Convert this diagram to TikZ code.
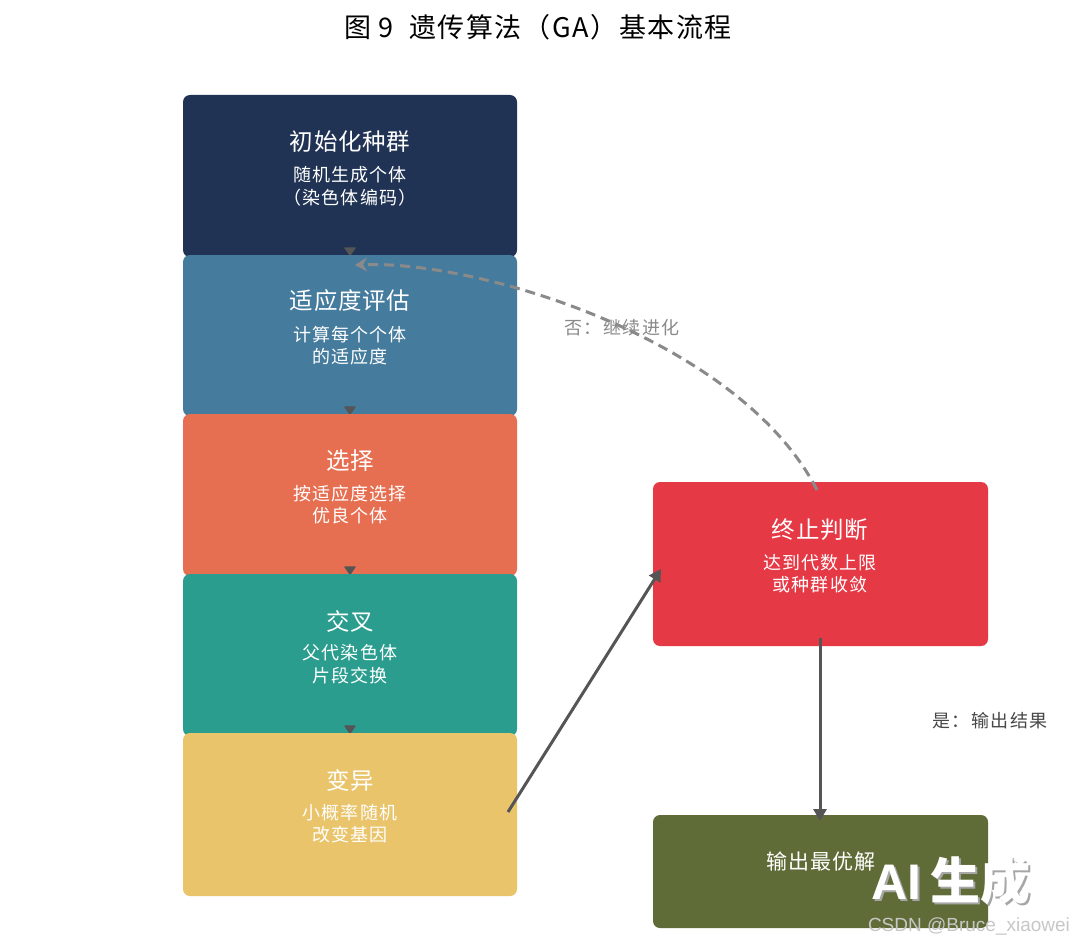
\documentclass[tikz,border=0pt]{standalone}
\usepackage{fontspec}
\setmainfont{Noto Sans CJK SC}
\newfontfamily\latinsans{Liberation Sans}
\usetikzlibrary{arrows.meta}
\definecolor{cnavy}{HTML}{203354}
\definecolor{cblue}{HTML}{457B9D}
\definecolor{corange}{HTML}{E76F51}
\definecolor{cteal}{HTML}{2A9D8F}
\definecolor{cyellow}{HTML}{E9C46A}
\definecolor{cred}{HTML}{E63946}
\definecolor{colive}{HTML}{606C38}
\definecolor{carrow}{HTML}{555555}
\definecolor{cdash}{HTML}{8A8A8A}
\tikzset{
  box/.style={rectangle, rounded corners=7pt, draw=none, minimum width=334pt, inner sep=0pt},
  ttl/.style={text=white, inner sep=0pt, font=\fontsize{23.5}{26}\selectfont\addfontfeatures{LetterSpace=3}},
  sub/.style={text=white, inner sep=0pt, font=\fontsize{18}{20}\selectfont\addfontfeatures{LetterSpace=6}},
  lbl/.style={inner sep=0pt, font=\fontsize{18}{20}\selectfont\addfontfeatures{LetterSpace=8}},
  smallarr/.style={draw=carrow, line width=1pt, -{Triangle[width=12pt,length=9pt,round]}, fill=carrow},
  bigarr/.style={draw=carrow, line width=3pt, -{Triangle[width=13pt,length=12pt]}},
  dasharr/.style={draw=cdash, line width=3pt, dash pattern=on 10pt off 6pt, -{Stealth[width=14pt,length=12pt]}},
}
\begin{document}
\begin{tikzpicture}[x=1pt,y=-1pt]
\useasboundingbox[fill=white] (0,0) rectangle (1076,944);
\node[inner sep=0pt, font=\fontsize{27}{30}\selectfont\addfontfeatures{LetterSpace=6}, text=black] (title) at (538,27) {图 9\ \ 遗传算法（GA）基本流程};

% left column
\node[box, fill=cnavy, minimum height=162pt] (b1) at (350,176) {};
\node[ttl] (b1t) at (350,142) {初始化种群};
\node[sub] (b1s) at (350,175) {随机生成个体};
\node[sub] (b1u) at (350,198) {（染色体编码）};
\coordinate (b1o) at (350,249);
\draw[smallarr] (b1o) -- ++(0,7);

\node[box, fill=cblue, minimum height=161pt] (b2) at (350,335.5) {};
\node[ttl] (b2t) at (350,301) {适应度评估};
\node[sub] (b2s) at (350,335) {计算每个个体};
\node[sub] (b2u) at (350,357) {的适应度};
\coordinate (b2o) at (350,408);
\draw[smallarr] (b2o) -- ++(0,7);

\node[box, fill=corange, minimum height=162pt] (b3) at (350,495) {};
\node[ttl] (b3t) at (350,461) {选择};
\node[sub] (b3s) at (350,494) {按适应度选择};
\node[sub] (b3u) at (350,516) {优良个体};
\coordinate (b3o) at (350,568);
\draw[smallarr] (b3o) -- ++(0,7);

\node[box, fill=cteal, minimum height=162pt] (b4) at (350,655) {};
\node[ttl] (b4t) at (350,621) {交叉};
\node[sub] (b4s) at (350,653) {父代染色体};
\node[sub] (b4u) at (350,676) {片段交换};
\coordinate (b4o) at (350,727);
\draw[smallarr] (b4o) -- ++(0,7);

\node[box, fill=cyellow, minimum height=163pt] (b5) at (350,814.5) {};
\node[ttl] (b5t) at (350,780) {变异};
\node[sub] (b5s) at (350,813) {小概率随机};
\node[sub] (b5u) at (350,835) {改变基因};

% right column
\node[box, fill=cred, minimum width=335pt, minimum height=164pt] (term) at (820.5,564) {};
\node[ttl] (termt) at (820,530) {终止判断};
\node[sub] (terms) at (820,563) {达到代数上限};
\node[sub] (termu) at (820,585) {或种群收敛};

\node[box, fill=colive, minimum width=335pt, minimum height=113pt] (out) at (820.5,871.5) {};
\node[text=white, inner sep=0pt, font=\fontsize{21}{24}\selectfont\addfontfeatures{LetterSpace=5}] (outt) at (821,862) {输出最优解};

% connectors
\coordinate (b5a) at (508,812);
\coordinate (terma) at (661,569);
\draw[bigarr] (b5a) -- (terma);

\coordinate (termb) at (820,638);
\coordinate (outa) at (820,821);
\draw[bigarr] (termb) -- (outa);
\node[lbl, text=black!72] (yes) at (990,721) {是：输出结果};

\coordinate (termc) at (817,490);
\coordinate (b2in) at (355,265);
\draw[dasharr] (termc) .. controls (740,340) and (480,260) .. (b2in);
\node[lbl, text=cdash] (no) at (622,328) {否：继续进化};

% watermark
\node[text=black!35, inner sep=0pt] (wms) at (953,882)
  {\fontsize{50}{56}\selectfont\latinsans\bfseries AI\,\normalfont\fontsize{50}{56}\selectfont\bfseries 生成};
\node[text=white, inner sep=0pt] (wm) at (951,880)
  {\fontsize{50}{56}\selectfont\latinsans\bfseries AI\,\normalfont\fontsize{50}{56}\selectfont\bfseries 生成};
\node[text=black!22, inner sep=0pt, font=\latinsans\fontsize{19}{21}\selectfont] (wm2) at (969,926) {CSDN @Bruce\_xiaowei};
\end{tikzpicture}
\end{document}
